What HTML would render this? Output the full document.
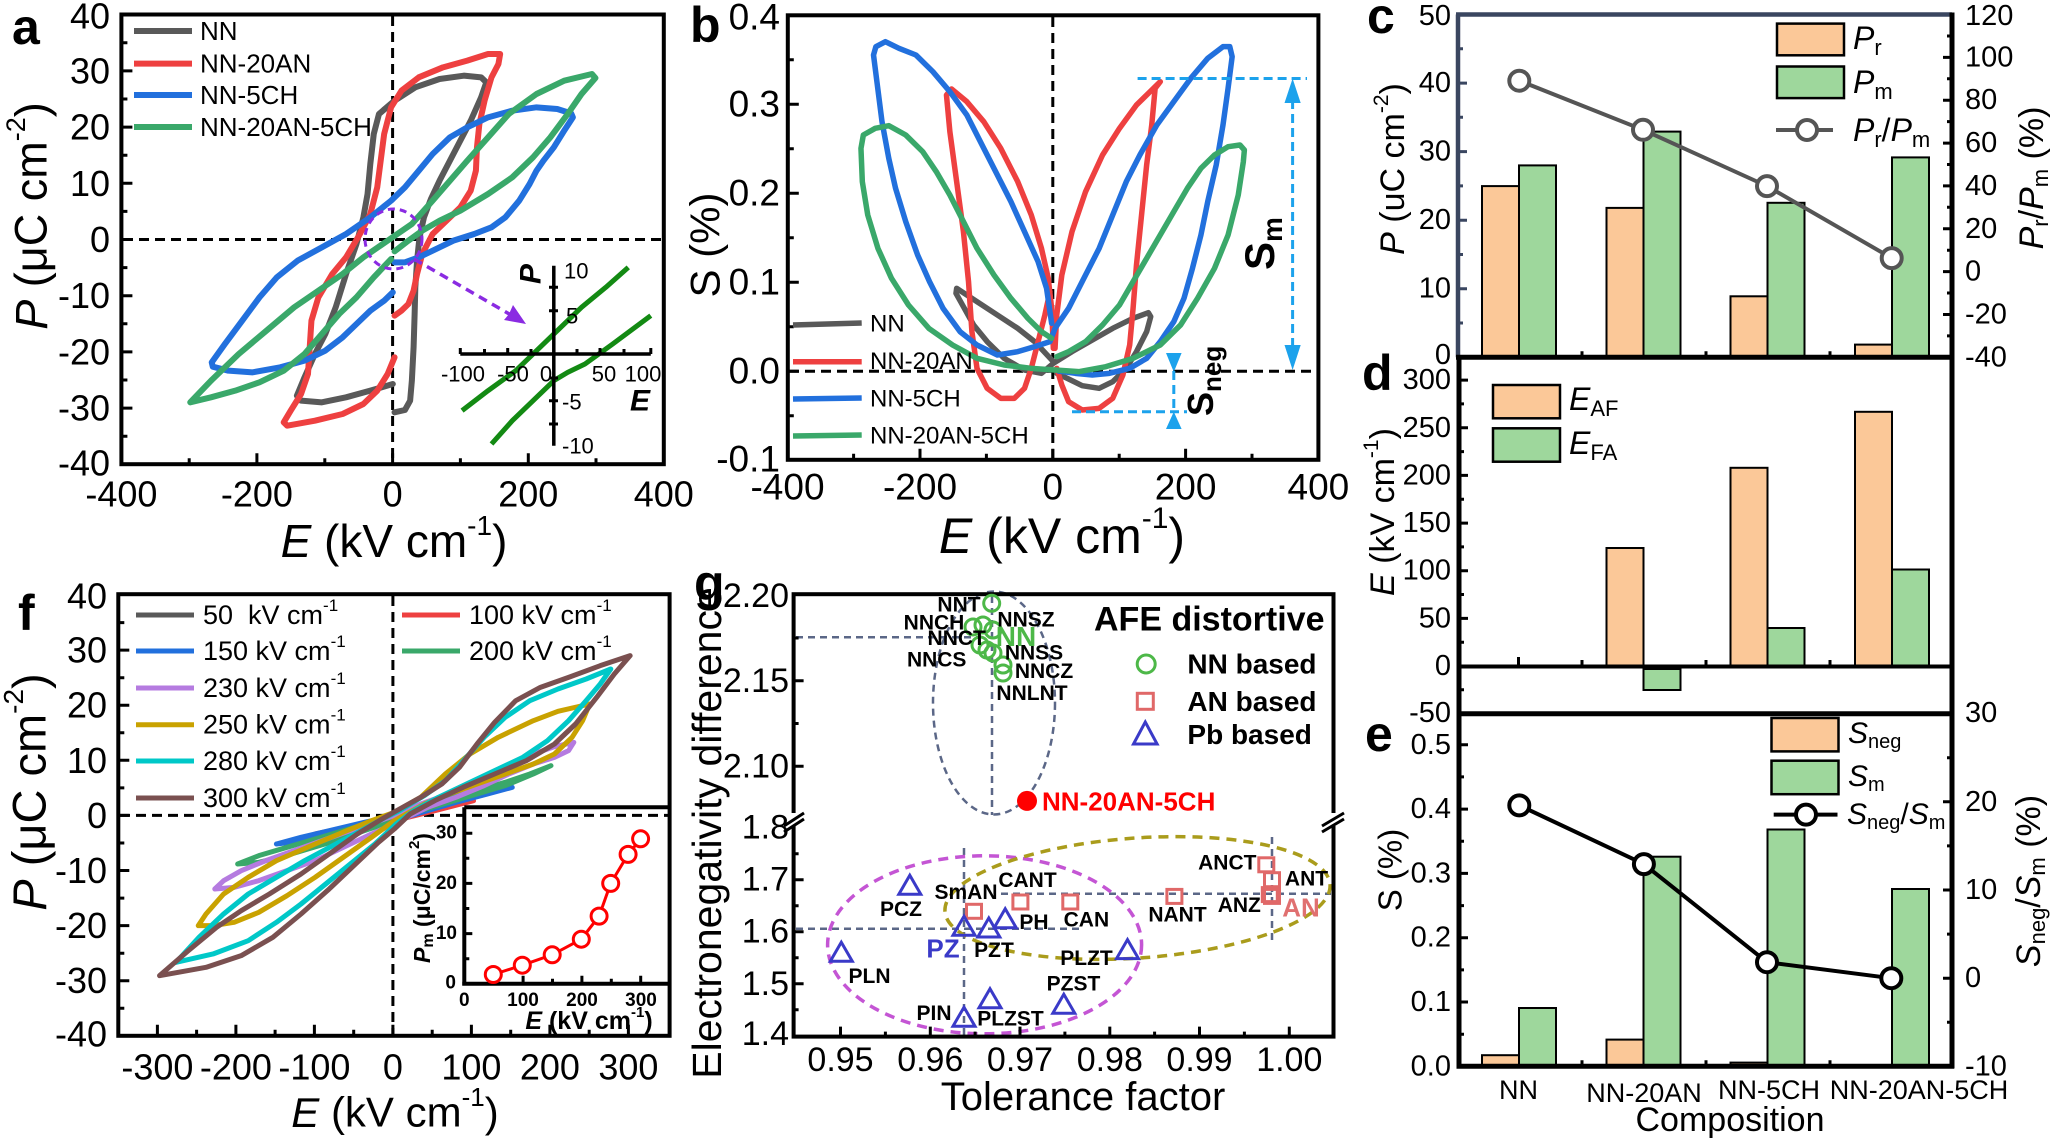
<!DOCTYPE html>
<html><head><meta charset="utf-8">
<style>
html,body{margin:0;padding:0;background:#fff;}
svg{display:block;}
text{font-family:"Liberation Sans",Arial,sans-serif;dominant-baseline:central;fill:#000;}
text.lt{dominant-baseline:auto;font-weight:bold;font-size:50px;}
.ns *{vector-effect:non-scaling-stroke;}
</style></head><body>
<svg width="2050" height="1143" viewBox="0 0 2050 1143" xmlns="http://www.w3.org/2000/svg">
<rect width="2050" height="1143" fill="#fff"/>

<!-- ================= PANEL A ================= -->
<g>
<line x1="392.6" y1="16" x2="392.6" y2="462" stroke="#000" stroke-width="3" stroke-dasharray="10 6"/>
<line x1="123" y1="239.5" x2="662" y2="239.5" stroke="#000" stroke-width="3" stroke-dasharray="10 6"/>
<g class="ns" transform="translate(121,14) scale(0.34626,0.33333)" fill="none" stroke-width="6" stroke-linejoin="round" stroke-linecap="round">
<polyline stroke="#595959" points="785,1110 720,1130 650,1150 580,1165 520,1160 508,1145 530,1090 560,1020 590,960 620,880 650,780 680,690 700,610 712,540 720,450 730,360 745,300 790,260 850,220 920,195 990,185 1040,190 1055,205 1040,250 1010,320 980,380 950,440 920,500 895,555 875,610 862,670 855,740 850,820 848,900 845,1000 840,1100 835,1160 820,1188 790,1195"/>
<polyline stroke="#ee4040" points="790,1030 770,1080 740,1130 700,1170 640,1200 560,1220 480,1235 470,1225 490,1190 520,1140 540,1080 545,1000 550,920 570,850 610,780 650,730 690,660 720,600 740,520 750,440 760,360 780,280 810,230 860,190 930,160 1000,140 1060,120 1095,120 1090,150 1070,190 1050,260 1035,330 1028,400 1025,470 1010,530 980,580 940,620 900,660 870,720 855,780 845,830 830,870 810,890 790,905"/>
<polyline stroke="#2270dd" points="785,835 760,860 720,890 680,930 640,970 590,1010 530,1040 460,1060 380,1075 310,1070 265,1058 262,1045 300,990 350,920 400,850 450,790 510,740 580,700 650,660 720,610 780,560 820,520 860,470 900,420 950,370 1000,340 1060,310 1130,290 1200,280 1260,285 1300,298 1305,310 1280,350 1250,400 1220,440 1200,470 1180,510 1150,560 1110,610 1070,640 1020,660 960,680 900,710 860,730 820,745 790,745"/>
<polyline stroke="#3aa86a" points="780,735 730,790 680,850 630,900 580,960 530,1020 470,1070 400,1105 330,1130 260,1150 200,1165 260,1100 340,1020 420,950 500,880 570,830 640,780 700,730 770,680 840,630 900,560 950,500 1000,440 1060,370 1120,300 1200,240 1280,200 1360,180 1370,192 1330,240 1290,300 1240,370 1190,430 1130,490 1060,540 980,590 920,620 870,650 830,680 790,712"/>
<polyline stroke="#138a13" stroke-width="5" stroke-linecap="butt" points="985,1190 1060,1130 1140,1070 1200,1010 1260,950 1330,880 1400,820 1465,760"/>
<polyline stroke="#138a13" stroke-width="5" stroke-linecap="butt" points="1070,1290 1130,1220 1190,1160 1250,1100 1290,1075 1340,1050 1420,990 1530,905"/>
</g>
<rect x="121.4" y="14.5" width="542.4" height="449.7" fill="none" stroke="#000" stroke-width="4"/>
<path d="M121.4 70.9h11M121.4 127.1h11M121.4 183.3h11M121.4 239.5h11M121.4 295.7h11M121.4 351.9h11M121.4 408.1h11M121.4 42.8h6M121.4 99h6M121.4 155.2h6M121.4 211.4h6M121.4 267.6h6M121.4 323.8h6M121.4 380h6M121.4 436.2h6M256.9 464.2v-11M392.6 464.2v-11M528.3 464.2v-11M189.2 464.2v-6M324.8 464.2v-6M460.4 464.2v-6M596 464.2v-6" stroke="#000" stroke-width="3"/>
<g font-size="36" text-anchor="end">
<text x="110" y="16">40</text><text x="110" y="70.9">30</text><text x="110" y="127.1">20</text><text x="110" y="183.3">10</text><text x="110" y="239.5">0</text><text x="110" y="295.7">-10</text><text x="110" y="351.9">-20</text><text x="110" y="408.1">-30</text><text x="110" y="463">-40</text>
</g>
<g font-size="36" text-anchor="middle">
<text x="121.4" y="494">-400</text><text x="256.9" y="494">-200</text><text x="392.6" y="494">0</text><text x="528.3" y="494">200</text><text x="663.8" y="494">400</text>
</g>
<text x="394" y="541" text-anchor="middle" font-size="46"><tspan font-style="italic">E</tspan> (kV cm<tspan font-size="28" dy="-16">-1</tspan><tspan dy="16">)</tspan></text>
<text transform="translate(31,216) rotate(-90)" text-anchor="middle" font-size="45"><tspan font-style="italic">P</tspan> (μC cm<tspan font-size="27" dy="-15">-2</tspan><tspan dy="15">)</tspan></text>
<text class="lt" x="12" y="44">a</text>
<g stroke-width="6">
<line x1="134" y1="31" x2="192" y2="31" stroke="#595959"/>
<line x1="134" y1="63.6" x2="192" y2="63.6" stroke="#ee4040"/>
<line x1="134" y1="95" x2="192" y2="95" stroke="#2270dd"/>
<line x1="134" y1="127" x2="192" y2="127" stroke="#3aa86a"/>
</g>
<g font-size="26">
<text x="200" y="31">NN</text><text x="200" y="63.6">NN-20AN</text><text x="200" y="95">NN-5CH</text><text x="200" y="127">NN-20AN-5CH</text>
</g>
<!-- inset a -->
<g stroke="#000" stroke-width="3.5">
<line x1="460.3" y1="354" x2="650.8" y2="354"/>
<line x1="553.8" y1="265.7" x2="553.8" y2="445.7"/>
</g>
<path d="M460.3 354v-6M484.5 354v-5M507.7 354v-6M531 354v-5M577 354v-5M600 354v-6M624 354v-5M650.8 354v-6M549 287.3h9M549 310.7h9M549 378h9M549 400.7h9M549 424h9" stroke="#000" stroke-width="3"/>
<g font-size="22">
<text x="564" y="271">10</text><text x="566" y="316">5</text><text x="562" y="402">-5</text><text x="562" y="446">-10</text>
</g>
<g font-size="22" text-anchor="middle">
<text x="463" y="374">-100</text><text x="513" y="374">-50</text><text x="546" y="374">0</text><text x="604" y="374">50</text><text x="643" y="374">100</text>
</g>
<text transform="translate(531,274) rotate(-90)" text-anchor="middle" font-size="30" font-weight="bold" font-style="italic">P</text>
<text x="640" y="401" text-anchor="middle" font-size="30" font-weight="bold" font-style="italic">E</text>
<ellipse cx="393.5" cy="239" rx="28.5" ry="30" fill="none" stroke="#8a2be2" stroke-width="3" stroke-dasharray="7 5"/>
<line x1="414" y1="259" x2="511" y2="315" stroke="#8a2be2" stroke-width="3.5" stroke-dasharray="9 6"/>
<polygon points="526,324 504,320 509,314 513,305" fill="#8a2be2"/>
</g>

<!-- ================= PANEL B ================= -->
<g>
<line x1="1052.8" y1="17" x2="1052.8" y2="459" stroke="#000" stroke-width="3" stroke-dasharray="10 6"/>
<line x1="789" y1="371.2" x2="1316" y2="371.2" stroke="#000" stroke-width="3" stroke-dasharray="10 6"/>
<g class="ns" transform="translate(787,15) scale(0.33929,0.33333)" fill="none" stroke-width="5.5" stroke-linejoin="round" stroke-linecap="round">
<polyline stroke="#595959" points="785,1040 730,980 680,940 620,900 560,860 500,820 498,835 520,875 550,930 590,980 640,1030 700,1065 750,1075 785,1045 840,1010 900,975 960,940 1020,910 1065,893 1072,905 1060,950 1030,1010 1000,1060 960,1100 920,1120 870,1112 830,1092 795,1075"/>
<polyline stroke="#ee4040" points="785,1000 780,880 770,790 750,700 720,600 680,500 630,400 580,320 530,260 485,222 470,240 480,350 500,500 520,650 535,800 545,950 560,1060 590,1120 630,1150 670,1150 700,1120 720,1060 740,980 760,900 775,830"/>
<polyline stroke="#ee4040" points="790,1000 795,900 810,780 840,650 880,530 930,420 980,340 1030,270 1070,230 1100,200 1085,220 1075,330 1060,450 1045,600 1030,750 1020,880 1010,990 990,1080 960,1150 920,1180 870,1185 830,1160 810,1110 795,1060"/>
<polyline stroke="#2270dd" points="780,925 765,820 740,740 700,650 660,560 620,480 580,400 530,300 480,230 430,170 380,120 330,100 290,80 262,95 255,120 265,200 280,320 300,430 320,520 350,620 385,720 420,800 460,880 510,950 560,990 620,1020 680,1010 730,995 775,980 790,940 830,880 870,800 920,700 960,600 1000,500 1040,420 1090,330 1140,260 1190,190 1240,130 1285,95 1305,95 1312,125 1300,220 1285,330 1265,450 1240,560 1220,660 1195,760 1170,850 1140,920 1100,980 1060,1030 1010,1060 950,1075 900,1080 850,1075 800,1068"/>
<polyline stroke="#3aa86a" points="780,970 750,950 710,910 660,850 610,780 560,700 520,620 480,540 440,470 400,410 350,360 300,332 260,340 225,360 218,400 222,500 238,600 268,700 308,790 358,870 418,940 488,990 560,1030 640,1050 720,1060 790,1065 860,1070 940,1055 1020,1030 1100,990 1160,930 1210,850 1260,760 1300,660 1330,540 1345,440 1348,405 1335,390 1300,395 1260,420 1220,460 1180,520 1140,590 1100,660 1060,730 1020,800 980,870 930,930 880,980 830,1010 795,1025"/>
</g>
<rect x="787.8" y="15.3" width="530.6" height="444.5" fill="none" stroke="#000" stroke-width="4"/>
<path d="M787.8 104.2h11M787.8 193.2h11M787.8 282.2h11M787.8 371.2h11M787.8 59.7h6M787.8 148.7h6M787.8 237.7h6M787.8 326.7h6M787.8 415.7h6M920 459.8v-11M1052.8 459.8v-11M1185.6 459.8v-11M853.6 459.8v-6M986.4 459.8v-6M1119.2 459.8v-6M1252 459.8v-6" stroke="#000" stroke-width="3"/>
<g font-size="37" text-anchor="end">
<text x="780" y="17">0.4</text><text x="780" y="104.2">0.3</text><text x="780" y="193.2">0.2</text><text x="780" y="282.2">0.1</text><text x="780" y="371.2">0.0</text><text x="780" y="459">-0.1</text>
</g>
<g font-size="37" text-anchor="middle">
<text x="787.5" y="487">-400</text><text x="920" y="487">-200</text><text x="1052.8" y="487">0</text><text x="1185.6" y="487">200</text><text x="1318.4" y="487">400</text>
</g>
<text x="1062" y="536" text-anchor="middle" font-size="50"><tspan font-style="italic">E</tspan> (kV cm<tspan font-size="30" dy="-18">-1</tspan><tspan dy="18">)</tspan></text>
<text transform="translate(705,245) rotate(-90)" text-anchor="middle" font-size="42">S (%)</text>
<text class="lt" x="690" y="42">b</text>
<g stroke-width="5.5">
<line x1="793" y1="325" x2="861.7" y2="323" stroke="#595959"/>
<line x1="793" y1="361.7" x2="861.7" y2="361.7" stroke="#ee4040"/>
<line x1="793" y1="399" x2="861.7" y2="398" stroke="#2270dd"/>
<line x1="793" y1="436" x2="861.7" y2="435" stroke="#3aa86a"/>
</g>
<g font-size="24">
<text x="870" y="324">NN</text><text x="870" y="361.7">NN-20AN</text><text x="870" y="399">NN-5CH</text><text x="870" y="436">NN-20AN-5CH</text>
</g>
<!-- annotations -->
<g stroke="#1ca2ec" stroke-width="3" stroke-dasharray="9 5" fill="none">
<line x1="1137.6" y1="78.5" x2="1307" y2="78.5"/>
<line x1="1292.6" y1="100" x2="1292.6" y2="350"/>
<line x1="1072" y1="411.7" x2="1187" y2="411.7"/>
<line x1="1173.8" y1="371" x2="1173.8" y2="412"/>
</g>
<g fill="#1ca2ec">
<polygon points="1292.6,78.5 1284.5,103 1300.7,103"/>
<polygon points="1292.6,370 1284.5,345 1300.7,345"/>
<polygon points="1173.8,372 1166,353 1181.6,353"/>
<polygon points="1173.8,411.7 1166,429 1181.6,429"/>
</g>
<text transform="translate(1274,270) rotate(-90)" font-size="42" font-weight="bold" style="dominant-baseline:auto">S<tspan font-size="28" dy="8">m</tspan></text>
<text transform="translate(1213,416) rotate(-90)" font-size="36" font-weight="bold" style="dominant-baseline:auto">S<tspan font-size="26" dy="8">neg</tspan></text>
</g>

<!-- ================= PANEL C/D/E ================= -->
<g>
<g stroke="#000" stroke-width="2">
<rect x="1482" y="186.1" width="37" height="171.2" fill="#fbc898"/>
<rect x="1519" y="165.4" width="37" height="191.9" fill="#9ed79c"/>
<rect x="1606.5" y="207.9" width="37" height="149.4" fill="#fbc898"/>
<rect x="1643.5" y="131.6" width="37" height="225.7" fill="#9ed79c"/>
<rect x="1730.5" y="296.3" width="37" height="61" fill="#fbc898"/>
<rect x="1767.5" y="202.8" width="37" height="154.5" fill="#9ed79c"/>
<rect x="1855" y="344.6" width="37" height="12.7" fill="#fbc898"/>
<rect x="1892" y="157.4" width="37" height="199.9" fill="#9ed79c"/>
<rect x="1606.5" y="548" width="37" height="118" fill="#fbc898"/>
<rect x="1643.5" y="669" width="37" height="21" fill="#9ed79c"/>
<rect x="1730.5" y="467.8" width="37" height="198.2" fill="#fbc898"/>
<rect x="1767.5" y="628" width="37" height="38" fill="#9ed79c"/>
<rect x="1855" y="411.8" width="37" height="254.2" fill="#fbc898"/>
<rect x="1892" y="569.5" width="37" height="96.5" fill="#9ed79c"/>
<rect x="1482" y="1055.2" width="37" height="11.1" fill="#fbc898"/>
<rect x="1519" y="1008" width="37" height="58.3" fill="#9ed79c"/>
<rect x="1606.5" y="1039.6" width="37" height="26.7" fill="#fbc898"/>
<rect x="1643.5" y="856.7" width="37" height="209.6" fill="#9ed79c"/>
<rect x="1730.5" y="1062.6" width="37" height="3.7" fill="#fbc898"/>
<rect x="1767.5" y="829.5" width="37" height="236.8" fill="#9ed79c"/>
<rect x="1892" y="889" width="37" height="177.3" fill="#9ed79c"/>
</g>
<polyline points="1519.3,80.7 1643,129.8 1767,186.1 1891.7,258.1" fill="none" stroke="#555" stroke-width="4"/>
<g fill="#fff" stroke="#555" stroke-width="4">
<circle cx="1519.3" cy="80.7" r="10"/><circle cx="1643" cy="129.8" r="10"/><circle cx="1767" cy="186.1" r="10"/><circle cx="1891.7" cy="258.1" r="10"/>
</g>
<polyline points="1519.3,805.4 1643.9,864.1 1767,962.2 1891.3,978.2" fill="none" stroke="#000" stroke-width="4"/>
<g fill="#fff" stroke="#000" stroke-width="4">
<circle cx="1519.3" cy="805.4" r="10"/><circle cx="1643.9" cy="864.1" r="10"/><circle cx="1767" cy="962.2" r="10"/><circle cx="1891.3" cy="978.2" r="10"/>
</g>
<line x1="1456" y1="14.5" x2="1952" y2="14.5" stroke="#3a4660" stroke-width="4.5"/>
<line x1="1458" y1="14.5" x2="1458" y2="357.3" stroke="#3a4660" stroke-width="4.5"/>
<line x1="1952" y1="12.5" x2="1952" y2="1068.5" stroke="#000" stroke-width="5"/>
<line x1="1456" y1="357.3" x2="1954" y2="357.3" stroke="#000" stroke-width="5"/>
<line x1="1459" y1="357.3" x2="1459" y2="1068.5" stroke="#000" stroke-width="5"/>
<line x1="1459" y1="666.5" x2="1952" y2="666.5" stroke="#000" stroke-width="4"/>
<line x1="1459" y1="713.7" x2="1952" y2="713.7" stroke="#000" stroke-width="5"/>
<line x1="1456.5" y1="1066.3" x2="1954" y2="1066.3" stroke="#000" stroke-width="5"/>
<path d="M1458 83.1h9M1458 151.6h9M1458 220.2h9M1458 288.7h9M1458 48.8h5M1458 117.3h5M1458 185.9h5M1458 254.5h5M1458 323h5" stroke="#3a4660" stroke-width="3"/>
<path d="M1952 57.4h-9M1952 100.2h-9M1952 143.1h-9M1952 185.9h-9M1952 228.8h-9M1952 271.6h-9M1952 314.5h-9M1952 36h-5M1952 78.8h-5M1952 121.6h-5M1952 164.5h-5M1952 207.3h-5M1952 250.2h-5M1952 293h-5M1952 335.9h-5M1582 357.3v-6M1706 357.3v-6M1830 357.3v-6M1459 380.1h9M1459 427.8h9M1459 475.4h9M1459 523.1h9M1459 570.7h9M1459 618.4h9M1459 403.9h5M1459 451.6h5M1459 499.2h5M1459 546.9h5M1459 594.5h5M1459 642.2h5M1459 689.8h5M1518.5 666v-9M1582 666v-6M1706 666v-6M1830 666v-6M1459 744.8h9M1459 809.1h9M1459 873.4h9M1459 937.7h9M1459 1002h9M1459 776.9h5M1459 841.3h5M1459 905.6h5M1459 969.9h5M1459 1034.2h5M1952 801.8h-9M1952 890h-9M1952 978.2h-9M1952 757.7h-5M1952 845.9h-5M1952 934.1h-5M1952 1022.3h-5M1582 1066.3v-6M1706 1066.3v-6M1830 1066.3v-6" stroke="#000" stroke-width="3"/>
<g font-size="29" text-anchor="end">
<text x="1451" y="16">50</text><text x="1451" y="83.1">40</text><text x="1451" y="151.6">30</text><text x="1451" y="220.2">20</text><text x="1451" y="288.7">10</text><text x="1451" y="355">0</text>
<text x="1451" y="380.1">300</text><text x="1451" y="427.8">250</text><text x="1451" y="475.4">200</text><text x="1451" y="523.1">150</text><text x="1451" y="570.7">100</text><text x="1451" y="618.4">50</text><text x="1451" y="666">0</text><text x="1451" y="713">-50</text>
<text x="1451" y="744.8">0.5</text><text x="1451" y="809.1">0.4</text><text x="1451" y="873.4">0.3</text><text x="1451" y="937.7">0.2</text><text x="1451" y="1002">0.1</text><text x="1451" y="1066.3">0.0</text>
</g>
<g font-size="29">
<text x="1965" y="16">120</text><text x="1965" y="57.4">100</text><text x="1965" y="100.2">80</text><text x="1965" y="143.1">60</text><text x="1965" y="185.9">40</text><text x="1965" y="228.8">20</text><text x="1965" y="271.6">0</text><text x="1965" y="314.5">-20</text><text x="1965" y="357.3">-40</text>
<text x="1965" y="713">30</text><text x="1965" y="801.8">20</text><text x="1965" y="890">10</text><text x="1965" y="978.2">0</text><text x="1965" y="1066.4">-10</text>
</g>
<g font-size="27" text-anchor="middle">
<text x="1518.5" y="1090">NN</text><text x="1644" y="1093">NN-20AN</text><text x="1769" y="1090">NN-5CH</text><text x="1919" y="1090">NN-20AN-5CH</text>
</g>
<text x="1730" y="1120" text-anchor="middle" font-size="34">Composition</text>
<text transform="translate(1393,169) rotate(-90)" text-anchor="middle" font-size="34"><tspan font-style="italic">P</tspan> (uC cm<tspan font-size="21" dy="-12">-2</tspan><tspan dy="12">)</tspan></text>
<text transform="translate(2032,178) rotate(-90)" text-anchor="middle" font-size="34"><tspan font-style="italic">P</tspan><tspan font-size="22" dy="8">r</tspan><tspan dy="-8">/</tspan><tspan font-style="italic">P</tspan><tspan font-size="22" dy="8">m</tspan><tspan dy="-8"> (%)</tspan></text>
<text transform="translate(1383,512) rotate(-90)" text-anchor="middle" font-size="34"><tspan font-style="italic">E</tspan> (kV cm<tspan font-size="21" dy="-12">-1</tspan><tspan dy="12">)</tspan></text>
<text transform="translate(1390,870) rotate(-90)" text-anchor="middle" font-size="33">S (%)</text>
<text transform="translate(2029,881) rotate(-90)" text-anchor="middle" font-size="34"><tspan font-style="italic">S</tspan><tspan font-size="22" dy="8">neg</tspan><tspan dy="-8">/</tspan><tspan font-style="italic">S</tspan><tspan font-size="22" dy="8">m</tspan><tspan dy="-8"> (%)</tspan></text>
<text class="lt" x="1367" y="33">c</text>
<text class="lt" x="1362" y="390">d</text>
<text class="lt" x="1365" y="751">e</text>
<g stroke="#000" stroke-width="2.5">
<rect x="1777" y="23.6" width="67" height="31.7" fill="#fbc898"/>
<rect x="1777" y="66.5" width="67" height="31.6" fill="#9ed79c"/>
<rect x="1493" y="385" width="67" height="33.3" fill="#fbc898"/>
<rect x="1493" y="428.3" width="67" height="33.4" fill="#9ed79c"/>
<rect x="1771.5" y="718" width="67" height="33.4" fill="#fbc898"/>
<rect x="1771.5" y="760.7" width="67" height="33.5" fill="#9ed79c"/>
</g>
<line x1="1776" y1="130" x2="1833" y2="130" stroke="#555" stroke-width="4"/>
<circle cx="1807" cy="130" r="10" fill="#fff" stroke="#555" stroke-width="4"/>
<line x1="1773.7" y1="814.6" x2="1837.5" y2="814.6" stroke="#000" stroke-width="4"/>
<circle cx="1806" cy="814.6" r="10" fill="#fff" stroke="#000" stroke-width="4"/>
<g font-size="32">
<text x="1853" y="38"><tspan font-style="italic">P</tspan><tspan font-size="22" dy="9">r</tspan></text>
<text x="1853" y="82"><tspan font-style="italic">P</tspan><tspan font-size="22" dy="9">m</tspan></text>
<text x="1853" y="130"><tspan font-style="italic">P</tspan><tspan font-size="22" dy="9">r</tspan><tspan dy="-9">/</tspan><tspan font-style="italic">P</tspan><tspan font-size="22" dy="9">m</tspan></text>
<text x="1569" y="399"><tspan font-style="italic">E</tspan><tspan font-size="22" dy="9">AF</tspan></text>
<text x="1569" y="443"><tspan font-style="italic">E</tspan><tspan font-size="22" dy="9">FA</tspan></text>
</g>
<g font-size="30">
<text x="1848" y="733"><tspan font-style="italic">S</tspan><tspan font-size="20" dy="9">neg</tspan></text>
<text x="1848" y="776"><tspan font-style="italic">S</tspan><tspan font-size="20" dy="9">m</tspan></text>
<text x="1847" y="814"><tspan font-style="italic">S</tspan><tspan font-size="20" dy="9">neg</tspan><tspan dy="-9">/</tspan><tspan font-style="italic">S</tspan><tspan font-size="20" dy="9">m</tspan></text>
</g>
</g>

<!-- ================= PANEL F ================= -->
<g>
<line x1="392.9" y1="596" x2="392.9" y2="1034" stroke="#000" stroke-width="3" stroke-dasharray="10 6"/>
<line x1="120" y1="815.4" x2="668" y2="815.4" stroke="#000" stroke-width="3" stroke-dasharray="10 6"/>
<g class="ns" transform="translate(118,594) scale(0.35199,0.33333)" fill="none" stroke-width="5" stroke-linejoin="round" stroke-linecap="round">
<polyline stroke="#595959" points="650,700 720,685 785,668 850,655 920,640 850,660 785,678 720,690 650,700"/>
<polyline stroke="#ee4040" points="560,720 650,700 785,668 900,640 1010,620 900,650 785,680 660,705 560,720"/>
<polyline stroke="#2270dd" points="450,750 520,730 600,710 700,685 785,665 880,640 980,610 1060,590 1120,580 1050,600 960,625 880,650 785,680 700,705 620,725 530,740 450,750"/>
<polyline stroke="#3aa86a" points="340,810 400,785 480,760 560,735 640,710 720,685 785,665 860,640 940,610 1020,590 1100,565 1170,540 1230,515 1180,540 1100,575 1020,600 940,625 860,650 785,680 700,710 620,740 540,765 460,790 400,805 340,810"/>
<polyline stroke="#b57be0" points="275,885 300,860 350,830 420,800 500,770 580,740 660,710 730,685 785,665 860,630 940,600 1020,560 1100,520 1180,480 1240,458 1295,445 1280,470 1240,490 1180,510 1110,540 1040,575 960,610 880,640 820,670 785,690 720,720 640,760 560,800 480,830 400,860 330,880 275,885"/>
<polyline stroke="#c9a200" points="228,995 250,960 300,900 370,850 450,800 560,750 650,710 720,680 785,655 860,610 930,540 1000,480 1080,430 1180,380 1250,352 1340,330 1320,380 1290,430 1240,480 1180,510 1100,540 1020,570 940,600 870,630 785,680 720,730 640,790 560,850 480,905 400,955 330,985 270,995 228,995"/>
<polyline stroke="#00c8c8" points="165,1105 230,1030 300,960 370,900 450,850 530,800 610,755 690,710 760,670 800,650 870,605 930,560 990,490 1040,430 1100,370 1170,320 1250,285 1330,255 1400,225 1370,270 1330,320 1280,380 1220,440 1150,490 1070,530 990,570 910,610 840,650 790,690 730,750 660,810 590,870 520,930 450,985 370,1040 270,1080 165,1105"/>
<polyline stroke="#7a5050" points="118,1145 200,1070 280,1000 350,950 430,900 520,840 600,780 680,720 750,675 800,645 860,610 920,570 970,520 1020,450 1070,385 1130,320 1200,280 1280,250 1370,215 1455,185 1410,240 1360,310 1300,390 1240,450 1160,500 1070,540 980,580 900,620 830,660 785,705 740,745 680,805 600,885 520,960 440,1030 350,1085 250,1120 118,1145"/>
</g>
<rect x="118.3" y="594.2" width="551.3" height="441.6" fill="none" stroke="#000" stroke-width="4"/>
<path d="M118.3 650.1h11M118.3 705.2h11M118.3 760.3h11M118.3 815.4h11M118.3 870.5h11M118.3 925.6h11M118.3 980.7h11M118.3 622.6h6M118.3 677.7h6M118.3 732.8h6M118.3 787.9h6M118.3 843h6M118.3 898.1h6M118.3 953.2h6M118.3 1008.3h6M157.4 1035.8v-11M235.9 1035.8v-11M314.4 1035.8v-11M392.9 1035.8v-11M471.4 1035.8v-11M549.9 1035.8v-11M628.4 1035.8v-11M196.6 1035.8v-6M275.1 1035.8v-6M353.7 1035.8v-6M432.2 1035.8v-6M510.7 1035.8v-6M589.2 1035.8v-6" stroke="#000" stroke-width="3"/>
<g font-size="36" text-anchor="end">
<text x="107" y="596">40</text><text x="107" y="650.1">30</text><text x="107" y="705.2">20</text><text x="107" y="760.3">10</text><text x="107" y="815.4">0</text><text x="107" y="870.5">-10</text><text x="107" y="925.6">-20</text><text x="107" y="980.7">-30</text><text x="107" y="1034">-40</text>
</g>
<g font-size="36" text-anchor="middle">
<text x="157.4" y="1067">-300</text><text x="235.9" y="1067">-200</text><text x="314.4" y="1067">-100</text><text x="392.9" y="1067">0</text><text x="471.4" y="1067">100</text><text x="549.9" y="1067">200</text><text x="628.4" y="1067">300</text>
</g>
<text x="395" y="1112" text-anchor="middle" font-size="42"><tspan font-style="italic">E</tspan> (kV cm<tspan font-size="26" dy="-15">-1</tspan><tspan dy="15">)</tspan></text>
<text transform="translate(29,792) rotate(-90)" text-anchor="middle" font-size="47"><tspan font-style="italic">P</tspan> (μC cm<tspan font-size="28" dy="-16">-2</tspan><tspan dy="16">)</tspan></text>
<text class="lt" x="18" y="630">f</text>
<g stroke-width="5">
<line x1="136" y1="615" x2="194" y2="615" stroke="#595959"/>
<line x1="136" y1="651" x2="194" y2="651" stroke="#2270dd"/>
<line x1="136" y1="688" x2="194" y2="688" stroke="#b57be0"/>
<line x1="136" y1="724.7" x2="194" y2="724.7" stroke="#c9a200"/>
<line x1="136" y1="761" x2="194" y2="761" stroke="#00c8c8"/>
<line x1="136" y1="798" x2="194" y2="798" stroke="#7a5050"/>
<line x1="402" y1="615" x2="460" y2="615" stroke="#ee4040"/>
<line x1="402" y1="651" x2="460" y2="651" stroke="#3aa86a"/>
</g>
<g font-size="27">
<text x="203" y="615">50&#160;&#160;kV cm<tspan font-size="17" dy="-10">-1</tspan></text>
<text x="203" y="651">150 kV cm<tspan font-size="17" dy="-10">-1</tspan></text>
<text x="203" y="688">230 kV cm<tspan font-size="17" dy="-10">-1</tspan></text>
<text x="203" y="724.7">250 kV cm<tspan font-size="17" dy="-10">-1</tspan></text>
<text x="203" y="761">280 kV cm<tspan font-size="17" dy="-10">-1</tspan></text>
<text x="203" y="798">300 kV cm<tspan font-size="17" dy="-10">-1</tspan></text>
<text x="469" y="615">100 kV cm<tspan font-size="17" dy="-10">-1</tspan></text>
<text x="469" y="651">200 kV cm<tspan font-size="17" dy="-10">-1</tspan></text>
</g>
<line x1="464.3" y1="807.2" x2="669.6" y2="807.2" stroke="#000" stroke-width="4"/>
<line x1="464.3" y1="807.2" x2="464.3" y2="985.5" stroke="#000" stroke-width="4"/>
<line x1="462.3" y1="983.8" x2="669.6" y2="983.8" stroke="#000" stroke-width="4"/>
<path d="M464.3 958.7h5M464.3 933.6h8M464.3 908.5h5M464.3 883.4h8M464.3 858.3h5M464.3 833.2h8M493.7 983.8v-5M523.1 983.8v-8M552.5 983.8v-5M581.9 983.8v-8M611.3 983.8v-5M640.7 983.8v-8" stroke="#000" stroke-width="3"/>
<polyline points="493.3,974.5 522.3,965.2 552.2,954.8 581.3,939.2 599.1,916.1 610.7,883.4 628.1,854.4 640.6,838.8" fill="none" stroke="#ff0000" stroke-width="3"/>
<g fill="#fff" stroke="#ff0000" stroke-width="3">
<circle cx="493.3" cy="974.5" r="8"/><circle cx="522.3" cy="965.2" r="8"/><circle cx="552.2" cy="954.8" r="8"/><circle cx="581.3" cy="939.2" r="8"/><circle cx="599.1" cy="916.1" r="8"/><circle cx="610.7" cy="883.4" r="8"/><circle cx="628.1" cy="854.4" r="8"/><circle cx="640.6" cy="838.8" r="8"/>
</g>
<g font-size="19" font-weight="bold" text-anchor="end">
<text x="457" y="833.2">30</text><text x="457" y="883.4">20</text><text x="457" y="933.6">10</text><text x="456" y="983">0</text>
</g>
<g font-size="19" font-weight="bold" text-anchor="middle">
<text x="464.3" y="1000.5">0</text><text x="523" y="1000.5">100</text><text x="582" y="1000.5">200</text><text x="641" y="1000.5">300</text>
</g>
<text x="589" y="1021" text-anchor="middle" font-size="25" font-weight="bold"><tspan font-style="italic">E</tspan> (kV cm<tspan font-size="15" dy="-9">-1</tspan><tspan dy="9">)</tspan></text>
<text transform="translate(422,898) rotate(-90)" text-anchor="middle" font-size="23" font-weight="bold"><tspan font-style="italic">P</tspan><tspan font-size="16" dy="6">m</tspan><tspan dy="-6"> (μC/cm</tspan><tspan font-size="15" dy="-8">2</tspan><tspan dy="8">)</tspan></text>
</g>

<!-- ================= PANEL G ================= -->
<g>
<g fill="none" stroke="#5b6787" stroke-width="2.5" stroke-dasharray="7 5">
<ellipse cx="994" cy="703" rx="61" ry="111.5"/>
<line x1="992" y1="596" x2="992" y2="815"/>
<line x1="796" y1="637.3" x2="992" y2="637.3"/>
<line x1="964" y1="848" x2="964" y2="1035"/>
<line x1="796" y1="928.8" x2="1083" y2="928.8"/>
<line x1="1272" y1="837" x2="1272" y2="945"/>
<line x1="1001" y1="893.8" x2="1331" y2="893.8"/>
</g>
<ellipse cx="984.6" cy="944.8" rx="157" ry="89" fill="none" stroke="#c455d4" stroke-width="3.5" stroke-dasharray="10 7"/>
<ellipse cx="1137.5" cy="898" rx="193" ry="60" transform="rotate(-4 1137.5 898)" fill="none" stroke="#aa9c1c" stroke-width="3.5" stroke-dasharray="10 7"/>
<rect x="793.6" y="594.2" width="539.9" height="442.4" fill="none" stroke="#000" stroke-width="4"/>
<path d="M793.6 680.8h10M793.6 766.3h10M793.6 638h5M793.6 723.5h5M793.6 879.7h10M793.6 931.7h10M793.6 983.8h10M793.6 853.7h5M793.6 905.7h5M793.6 957.7h5M793.6 1009.8h5M840.5 1036.6v-10M930.3 1036.6v-10M1020 1036.6v-10M1109.8 1036.6v-10M1199.5 1036.6v-10M1289.3 1036.6v-10M885.4 1036.6v-5M975.1 1036.6v-5M1064.9 1036.6v-5M1154.6 1036.6v-5M1244.4 1036.6v-5" stroke="#000" stroke-width="3"/>
<rect x="788" y="813" width="12" height="13" fill="#fff"/>
<rect x="1327" y="813" width="12" height="13" fill="#fff"/>
<path d="M784 826L804 813M784 832L804 819M1322 826L1344 813M1322 832L1344 819" stroke="#000" stroke-width="3"/>
<g font-size="34" text-anchor="end">
<text x="789" y="596">2.20</text><text x="789" y="680.8">2.15</text><text x="789" y="766.3">2.10</text><text x="789" y="827.7">1.8</text><text x="789" y="879.7">1.7</text><text x="789" y="931.7">1.6</text><text x="789" y="983.8">1.5</text><text x="789" y="1034">1.4</text>
</g>
<g font-size="34" text-anchor="middle">
<text x="840.5" y="1060">0.95</text><text x="930.3" y="1060">0.96</text><text x="1020" y="1060">0.97</text><text x="1109.8" y="1060">0.98</text><text x="1199.5" y="1060">0.99</text><text x="1289.3" y="1060">1.00</text>
</g>
<text x="1083" y="1097" text-anchor="middle" font-size="40">Tolerance factor</text>
<text transform="translate(707,833) rotate(-90)" text-anchor="middle" font-size="41">Electronegativity difference</text>
<text class="lt" x="694" y="600">g</text>
<g fill="none" stroke="#4db848" stroke-width="3">
<circle cx="991.7" cy="603.3" r="8"/><circle cx="973" cy="627" r="8"/><circle cx="983" cy="625" r="8"/><circle cx="993" cy="630" r="8"/><circle cx="980" cy="645" r="8"/><circle cx="987" cy="650" r="8"/><circle cx="993" cy="653" r="8"/><circle cx="1003" cy="665" r="8"/><circle cx="1003" cy="673" r="8"/>
</g>
<g font-size="21" font-weight="bold" text-anchor="middle">
<text x="959" y="605">NNT</text><text x="934" y="623">NNCH</text><text x="1026" y="620">NNSZ</text><text x="956.7" y="638.3">NNCT</text><text x="936.7" y="660">NNCS</text><text x="1034" y="653">NNSS</text><text x="1044" y="671.7">NNCZ</text><text x="1032" y="693.3">NNLNT</text>
</g>
<text x="1016" y="636.7" text-anchor="middle" font-size="28" font-weight="bold" style="fill:#4db848">NN</text>
<circle cx="1027" cy="800.9" r="10" fill="#ff0000"/>
<text x="1042" y="801.6" font-size="26" font-weight="bold" style="fill:#ff0000">NN-20AN-5CH</text>
<text x="1094" y="619.5" font-size="34" font-weight="bold">AFE distortive</text>
<circle cx="1146.2" cy="664" r="9" fill="none" stroke="#4db848" stroke-width="3"/>
<rect x="1137.3" y="693.3" width="16" height="16" fill="none" stroke="#e06868" stroke-width="3"/>
<polygon points="1145.3,722 1133.5,744 1157.1,744" fill="none" stroke="#3a3ac8" stroke-width="3"/>
<g font-size="28" font-weight="bold">
<text x="1187.4" y="664">NN based</text><text x="1187.4" y="701.3">AN based</text><text x="1187.4" y="734.7">Pb based</text>
</g>
<g fill="none" stroke="#e06868" stroke-width="3">
<rect x="966.5" y="904.3" width="15" height="14"/><rect x="1012.9" y="895" width="15" height="14"/><rect x="1062.8" y="895" width="15" height="14"/><rect x="1166.9" y="889.4" width="15" height="14"/><rect x="1258.8" y="857.8" width="15" height="14"/><rect x="1264.5" y="872.7" width="15" height="14"/><rect x="1262.3" y="887.6" width="15" height="14"/><rect x="1264.5" y="889.4" width="15" height="14"/>
</g>
<g fill="none" stroke="#3a3ac8" stroke-width="3">
<polygon points="909.8,875.3 898.8,894.3 920.8,894.3"/>
<polygon points="964,916.2 953,935.2 975,935.2"/>
<polygon points="988.8,918 977.8,937 999.8,937"/>
<polygon points="1005.2,908.7 994.2,927.7 1016.2,927.7"/>
<polygon points="841.3,942.2 830.3,961.2 852.3,961.2"/>
<polygon points="964,1007.2 953,1026.2 975,1026.2"/>
<polygon points="990,988.7 979,1007.7 1001,1007.7"/>
<polygon points="1063.8,994.2 1052.8,1013.2 1074.8,1013.2"/>
<polygon points="1127.5,939.6 1116.5,958.6 1138.5,958.6"/>
</g>
<g font-size="21" font-weight="bold" text-anchor="middle">
<text x="901" y="909.4">PCZ</text><text x="994" y="950.3">PZT</text><text x="1034" y="922.5">PH</text><text x="869.5" y="976.3">PLN</text><text x="934" y="1013.5">PIN</text><text x="1010.5" y="1019">PLZST</text><text x="1073.5" y="983.8">PZST</text><text x="1086.5" y="958.3">PLZT</text><text x="1086.4" y="919.9">CAN</text><text x="966" y="892.7">SmAN</text><text x="1027.5" y="880.4">CANT</text><text x="1177.5" y="915">NANT</text><text x="1227.3" y="863">ANCT</text><text x="1306.5" y="879">ANT</text><text x="1239.3" y="905.7">ANZ</text>
</g>
<text x="943" y="948.5" text-anchor="middle" font-size="26" font-weight="bold" style="fill:#3a3ac8">PZ</text>
<text x="1301" y="907.6" text-anchor="middle" font-size="26" font-weight="bold" style="fill:#e07070">AN</text>
</g>
</svg>
</body></html>
